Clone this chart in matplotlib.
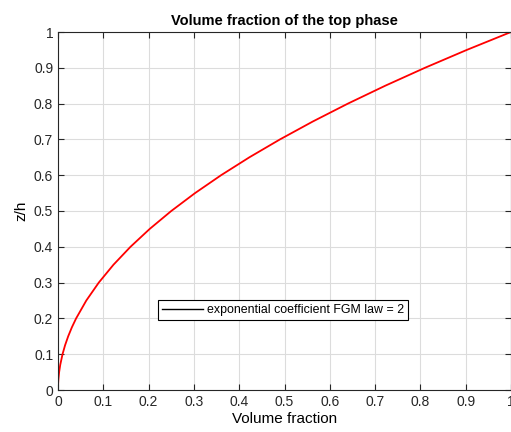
import matplotlib.pyplot as plt

# values (z/h vs volume fraction)
z_h = [0, 0.01, 0.02, 0.03, 0.05, 0.07, 0.1, 0.125, 0.15, 0.175, 0.2, 0.25,
       0.3, 0.35, 0.4, 0.45, 0.5, 0.55, 0.6, 0.65, 0.7, 0.75, 0.8, 0.85, 0.9,
       0.95, 1.0]
vol_frac = [0, 0.0001, 0.0004, 0.0009, 0.0025, 0.0049, 0.01, 0.0156, 0.0225,
            0.0306, 0.04, 0.0625, 0.09, 0.1225, 0.16, 0.2025, 0.25, 0.3025,
            0.36, 0.4225, 0.49, 0.5625, 0.64, 0.7225, 0.81, 0.9025, 1.0]
ticks = [0, 0.1, 0.2, 0.3, 0.4, 0.5, 0.6, 0.7, 0.8, 0.9, 1]
tick_labels = ['0', '0.1', '0.2', '0.3', '0.4', '0.5', '0.6', '0.7', '0.8', '0.9', '1']
legend_label = 'exponential coefficient FGM law = 2'

plt.rcParams['font.family'] = ['Liberation Sans', 'DejaVu Sans']

fig = plt.figure(figsize=(5.11, 4.32), dpi=100)
ax = fig.add_axes([58 / 511, 42 / 432, 453 / 511, 358 / 432])

ax.plot(vol_frac, z_h, color='red', linewidth=1.3)
# legend handle is black in the original figure
handle, = ax.plot([], [], color='black', linewidth=1.0)

ax.set_xlim(0, 1)
ax.set_ylim(0, 1)
ax.set_xticks(ticks)
ax.set_xticklabels(tick_labels)
ax.set_yticks(ticks)
ax.set_yticklabels(tick_labels)
ax.grid(True, color='#dcdcdc', linewidth=0.8)
ax.set_axisbelow(True)
ax.tick_params(direction='in', length=4, width=0.8, top=True, right=True,
               labelsize=10, colors='#262626')
for s in ax.spines.values():
    s.set_color('#262626')
    s.set_linewidth(0.8)

ax.set_title('Volume fraction of the top phase', fontsize=10.5,
             fontweight='bold', pad=5)
ax.set_xlabel('Volume fraction', fontsize=11, labelpad=2)
ax.set_ylabel('z/h', fontsize=11, labelpad=4)

leg = ax.legend([handle], [legend_label], loc='center',
                bbox_to_anchor=(0.497, 0.223), fontsize=8.9, fancybox=False,
                framealpha=1, edgecolor='black', handlelength=3.3,
                borderpad=0.3, handletextpad=0.4)
leg.get_frame().set_linewidth(0.8)

fig.savefig('out.png', dpi=100)
